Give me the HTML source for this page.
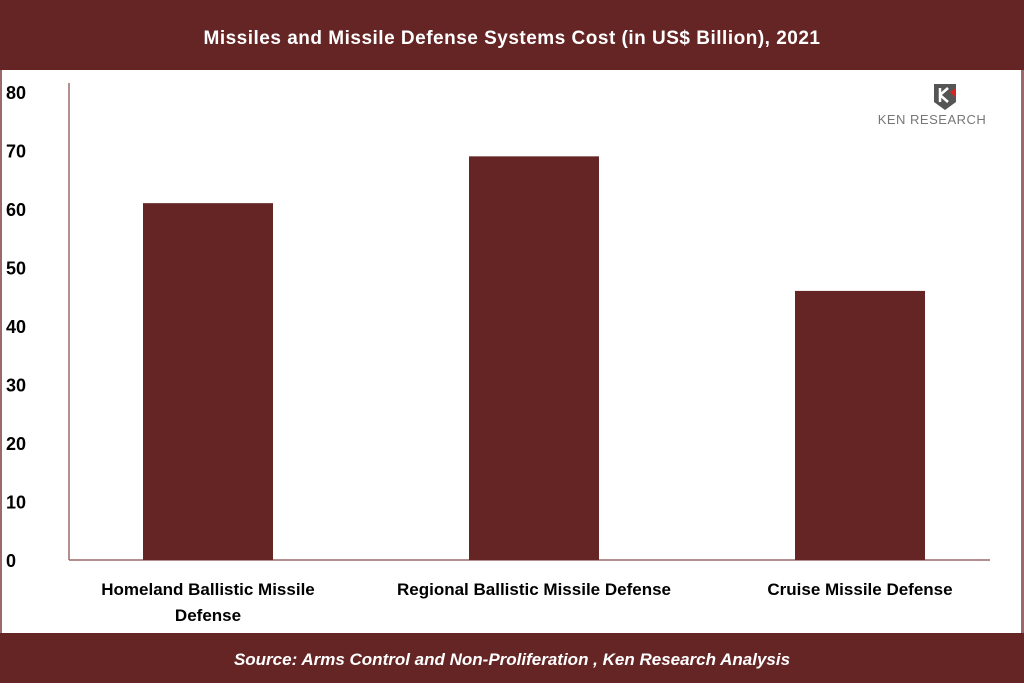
<!DOCTYPE html>
<html><head><meta charset="utf-8"><style>
body{margin:0;width:1024px;height:683px;overflow:hidden;background:#fff;font-family:"Liberation Sans",Arial,sans-serif}
</style></head><body>
<svg width="1024" height="683">
<rect x="0" y="0" width="1024" height="70" fill="#662525"/>
<text x="512" y="44" text-anchor="middle" fill="#fff" font-size="19" font-weight="bold" letter-spacing="0.5">Missiles and Missile Defense Systems Cost (in US$ Billion), 2021</text>
<rect x="0" y="70" width="2" height="563" fill="#9a6a6a"/>
<rect x="1021" y="70" width="3" height="563" fill="#9a6a6a"/>
<rect x="0" y="633" width="1024" height="50" fill="#662525"/>
<text x="512" y="665" text-anchor="middle" fill="#fff" font-size="17" font-weight="bold" font-style="italic">Source:  Arms Control and Non-Proliferation , Ken Research Analysis</text>
<g>
<path d="M934 84 h22 v18 l-11 8 l-11 -8z" fill="#555"/>
<path d="M940 88 v14 M940 95 l8 -7 M940 95 l8 7" stroke="#fff" stroke-width="2.5" fill="none"/>
<path d="M950 92 l6 -4 v10z" fill="#d22"/>
<text x="932" y="124" text-anchor="middle" font-size="13" fill="#777" letter-spacing="0.5">KEN RESEARCH</text>
</g>
<g id="axes"></g><g id="bars"></g>
</svg>
<script>
const categories=["Homeland Ballistic Missile|Defense","Regional Ballistic Missile Defense","Cruise Missile Defense"];
const values=[61,69,46];
const ticks=[0,10,20,30,40,50,60,70,80];
const NS="http://www.w3.org/2000/svg";
const y0=560,pxPer=5.85,axisX=69;
const y=v=>y0-v*pxPer;
const cx=i=>208+i*326;
function mk(t,a,p){const e=document.createElementNS(NS,t);for(const k in a)e.setAttribute(k,a[k]);p.appendChild(e);return e;}
const ax=document.getElementById('axes'),bs=document.getElementById('bars');
let l=mk('line',{x1:axisX,y1:83,x2:axisX,y2:y0,stroke:'#9a6a6a','stroke-width':1.5},ax);


l=mk('line',{x1:axisX,y1:y0,x2:990,y2:y0,stroke:'#9a6a6a','stroke-width':1.5},ax);


ticks.forEach(t=>{const e=mk('text',{x:6,y:y(t)+7,'font-size':18,'font-weight':'bold',fill:'#000'},ax);e.textContent=t;

});
values.forEach((v,i)=>{const r=mk('rect',{x:cx(i)-65,y:y(v),width:130,height:y0-y(v),fill:'#662525'},bs);


categories[i].split('|').forEach((s,j)=>{const e=mk('text',{x:cx(i),y:595+j*26,'text-anchor':'middle','font-size':17,'font-weight':'bold',fill:'#000'},ax);e.textContent=s;

});});
</script>
</body></html>
